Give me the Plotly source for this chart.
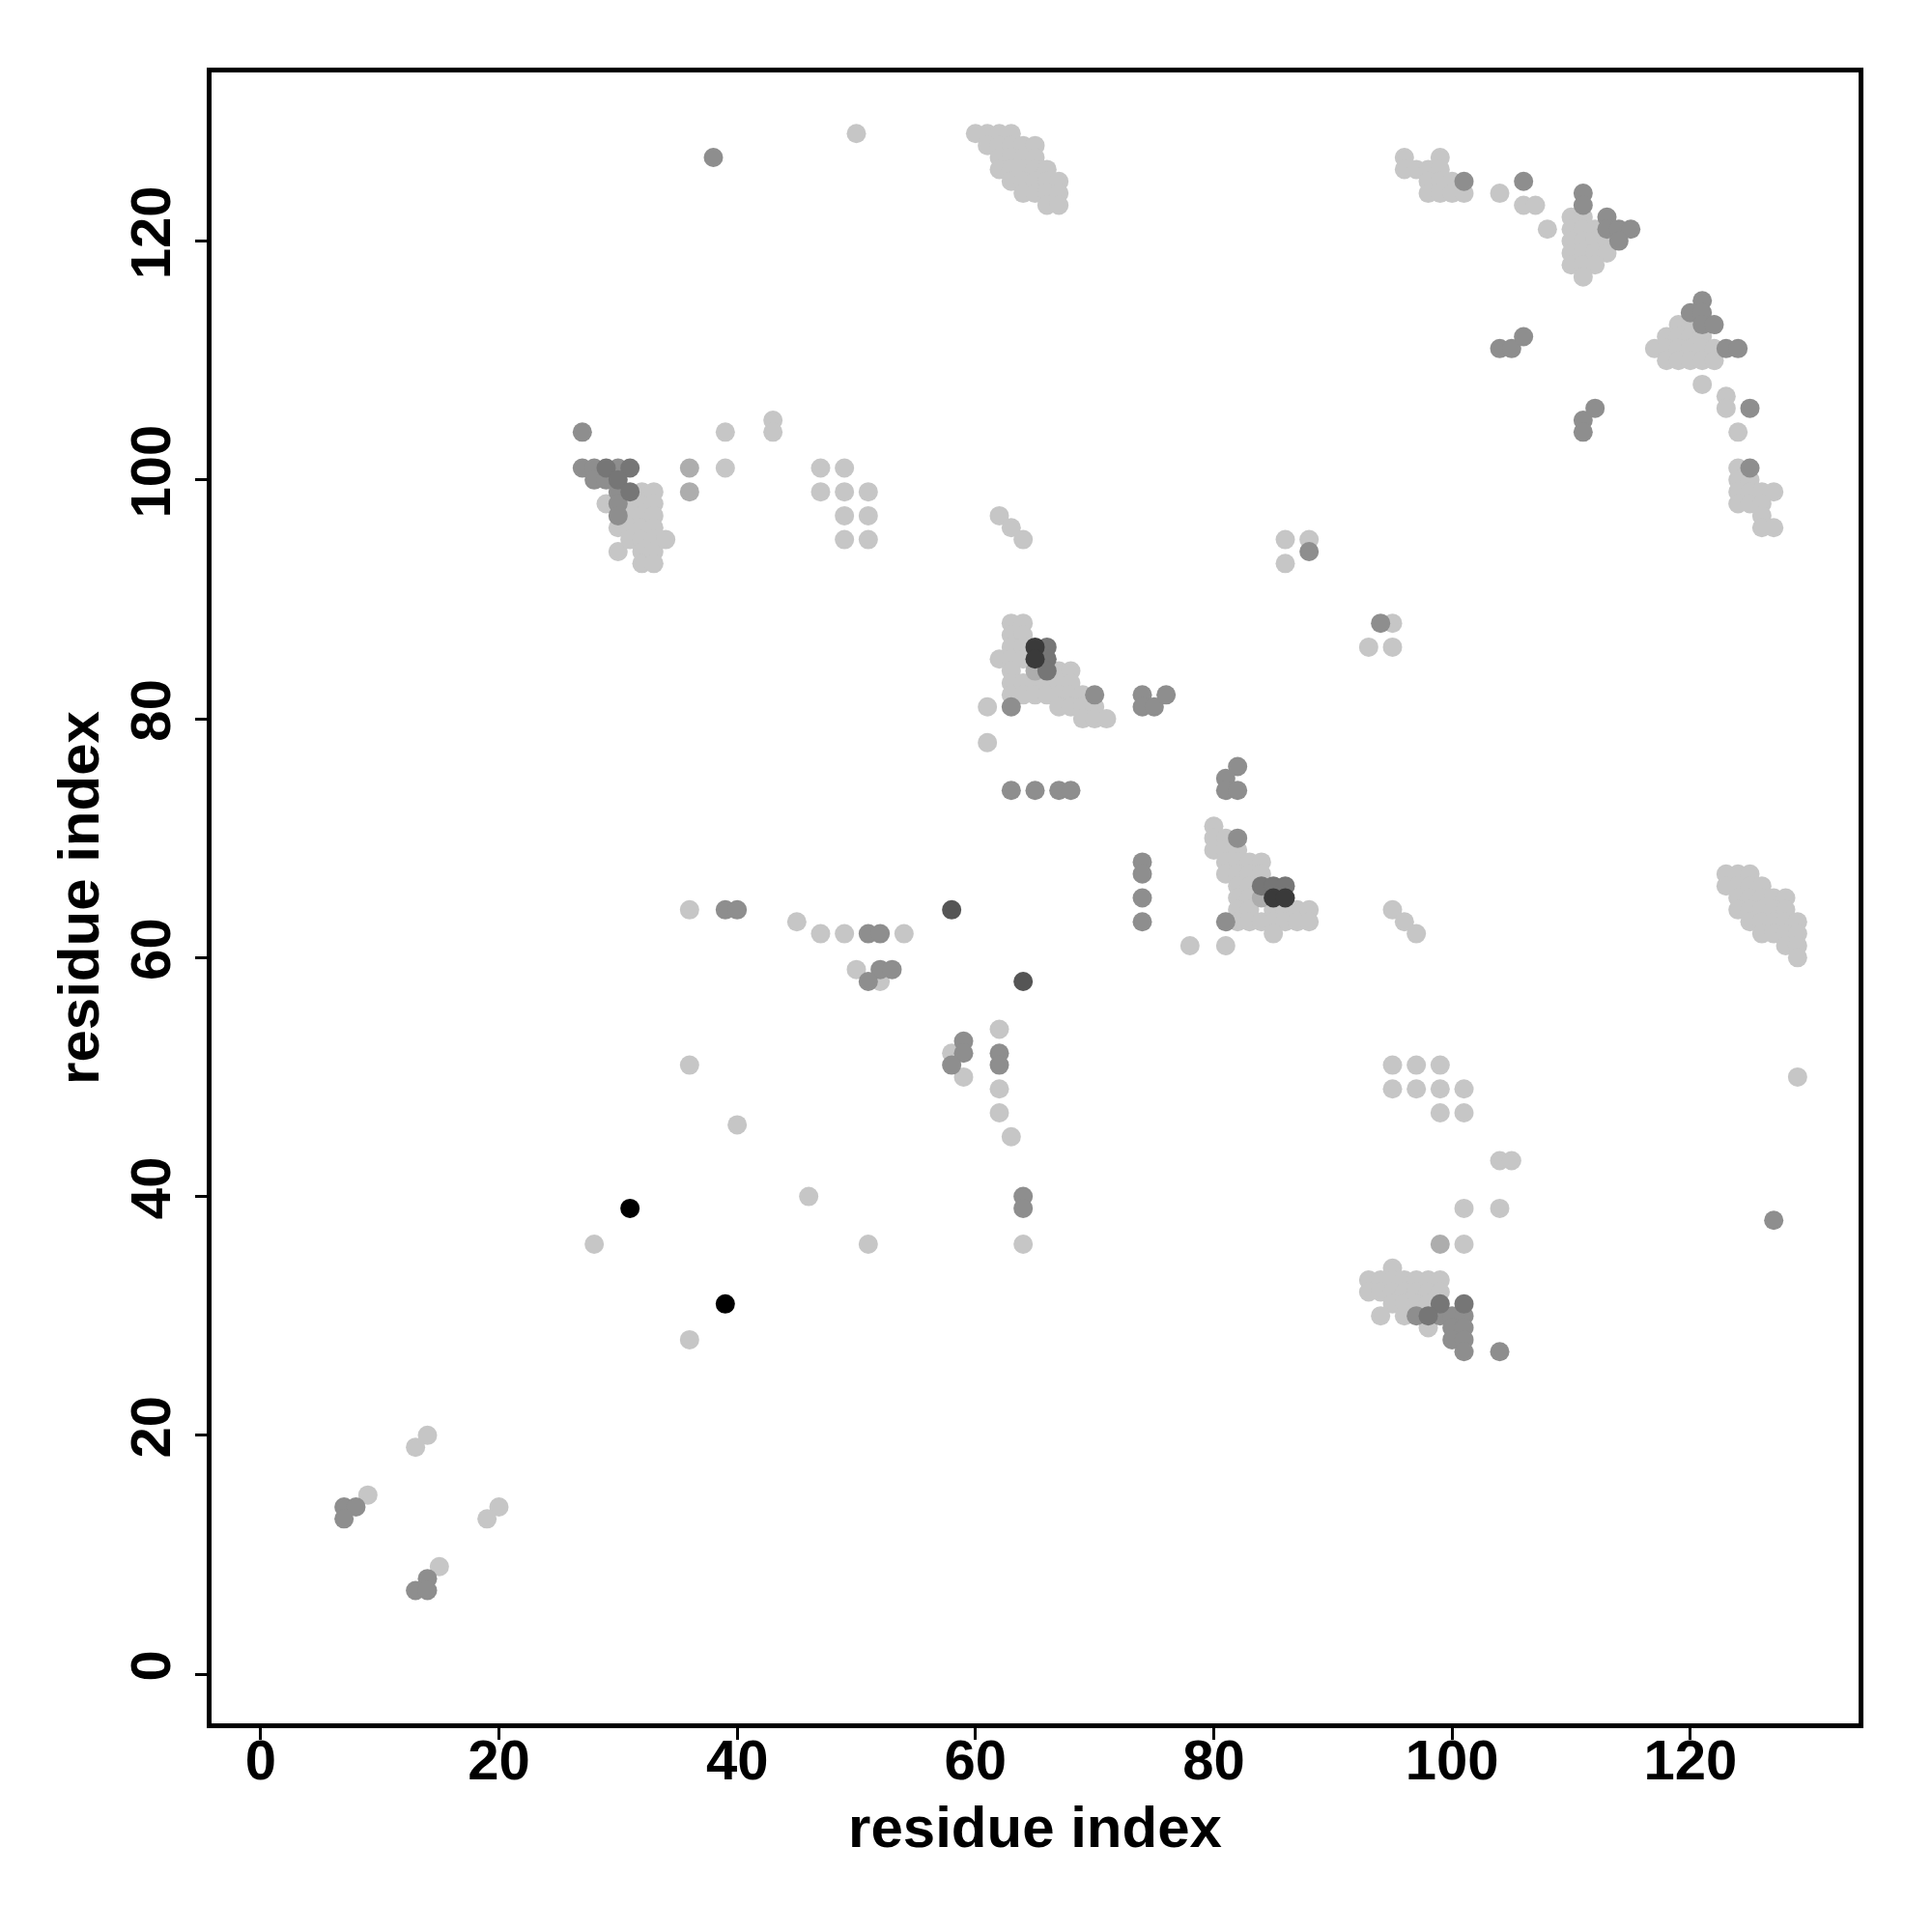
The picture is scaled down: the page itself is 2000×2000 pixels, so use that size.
import plotly.graph_objects as go

# ---- contact map data: (residue i, residue j) grouped by gray level ----
light = [
    (14, 20), (13, 19), (9, 15), (20, 14), (19, 13), (15, 9),
    (29, 98), (30, 96), (30, 94), (31, 98), (31, 97), (31, 96), (31, 95),
    (32, 99), (32, 98), (32, 97), (32, 96), (32, 95), (32, 94), (32, 93),
    (33, 99), (33, 98), (33, 97), (33, 96), (33, 95), (33, 94), (33, 93), (34, 95),
    (39, 104), (39, 101), (43, 105), (43, 104), (47, 101), (47, 99), (49, 101),
    (49, 99), (49, 97), (49, 95), (51, 99), (51, 97), (51, 95),
    (50, 129),
    (60, 129), (61, 129), (62, 129), (63, 129),
    (61, 128), (62, 128), (63, 128), (64, 128), (65, 128),
    (62, 127), (63, 127), (64, 127), (65, 127),
    (62, 126), (63, 126), (64, 126), (65, 126), (66, 126),
    (63, 125), (64, 125), (65, 125), (66, 125), (67, 125),
    (64, 124), (65, 124), (66, 124), (67, 124),
    (66, 123), (67, 123),
    (62, 97), (63, 96), (64, 95),
    (63, 88), (64, 88), (63, 87), (64, 87), (63, 86), (64, 86),
    (62, 85), (63, 85), (64, 85), (63, 84), (67, 84), (68, 84),
    (63, 83), (64, 83), (65, 83), (66, 83), (67, 83), (68, 83),
    (63, 82), (64, 82), (65, 82), (66, 82), (67, 82), (68, 82), (69, 82),
    (67, 81), (68, 81), (69, 81), (70, 81), (69, 80), (70, 80), (71, 80),
    (61, 81), (61, 78),
    (80, 71), (80, 70), (81, 70), (80, 69), (81, 69), (82, 69),
    (81, 68), (82, 68), (83, 68), (84, 68), (81, 67), (82, 67), (83, 67), (84, 67),
    (82, 66), (83, 66), (82, 65), (83, 65),
    (82, 64), (83, 64), (85, 64), (86, 64), (87, 64), (88, 64),
    (82, 63), (83, 63), (84, 63), (85, 63), (86, 63), (87, 63), (88, 63),
    (85, 62), (78, 61), (81, 61),
    (95, 51), (97, 51), (99, 51), (95, 49), (97, 49), (99, 49), (101, 49),
    (99, 47), (101, 47), (104, 43), (105, 43), (101, 39), (104, 39), (101, 36),
    (95, 34), (93, 33), (94, 33), (95, 33), (96, 33), (97, 33), (98, 33), (99, 33),
    (93, 32), (94, 32), (95, 32), (96, 32), (97, 32), (98, 32), (99, 32),
    (95, 31), (96, 31), (97, 31), (98, 31), (94, 30), (96, 30), (98, 29),
    (96, 127), (99, 127), (96, 126), (97, 126), (98, 126), (99, 126),
    (98, 125), (99, 125), (100, 125), (98, 124), (99, 124), (100, 124), (101, 124),
    (104, 124), (106, 123), (107, 123), (108, 121),
    (110, 122), (111, 122), (110, 121), (111, 121), (112, 121),
    (110, 120), (111, 120), (112, 120), (113, 120),
    (110, 119), (111, 119), (112, 119), (113, 119),
    (110, 118), (111, 118), (112, 118), (111, 117),
    (119, 113), (120, 113), (118, 112), (119, 112), (120, 112), (121, 112),
    (117, 111), (118, 111), (119, 111), (120, 111), (121, 111), (122, 111),
    (118, 110), (119, 110), (120, 110), (121, 110), (122, 110),
    (121, 108), (123, 107), (123, 106), (124, 104),
    (124, 101), (124, 100), (125, 100), (124, 99), (125, 99), (126, 99), (127, 99),
    (124, 98), (125, 98), (126, 98), (126, 97), (126, 96), (127, 96),
    (123, 67), (124, 67), (125, 67),
    (123, 66), (124, 66), (125, 66), (126, 66),
    (124, 65), (125, 65), (126, 65), (127, 65), (128, 65),
    (124, 64), (125, 64), (126, 64), (127, 64), (128, 64),
    (125, 63), (126, 63), (127, 63), (128, 63), (129, 63),
    (126, 62), (127, 62), (128, 62), (129, 62),
    (128, 61), (129, 61), (129, 60),
    (129, 50), (86, 95), (88, 95), (86, 93), (95, 88), (93, 86), (95, 86),
    (95, 64), (96, 63), (97, 62),
    (36, 64), (45, 63), (47, 62), (49, 62), (54, 62), (50, 59), (52, 58),
    (62, 54), (58, 52), (59, 50), (62, 49), (62, 47), (63, 45),
    (36, 51), (40, 46), (46, 40), (28, 36), (51, 36), (64, 36), (36, 28),
]

lightmid = [(36, 101), (36, 99), (65, 84), (84, 65), (99, 36)]

mid = [
    (7, 14), (8, 14), (7, 13), (14, 8), (13, 7), (14, 7),
    (27, 104), (27, 101), (28, 101), (30, 101), (28, 100), (29, 100),
    (30, 99), (30, 98), (30, 97),
    (38, 127),
    (70, 82), (63, 81), (74, 82), (74, 81), (75, 81), (76, 82),
    (63, 74), (65, 74), (67, 74), (68, 74),
    (82, 76), (81, 75), (81, 74), (82, 74), (82, 70),
    (74, 68), (74, 67), (74, 65), (74, 63), (81, 63),
    (97, 30), (99, 30), (100, 30), (101, 30), (100, 29), (101, 29),
    (100, 28), (101, 28), (101, 27), (104, 27),
    (101, 125), (106, 125), (111, 124), (111, 123), (113, 122), (113, 121),
    (114, 121), (115, 121), (114, 120),
    (104, 111), (105, 111), (106, 112), (111, 105), (111, 104), (112, 106),
    (121, 115), (120, 114), (121, 114), (121, 113), (122, 113),
    (123, 111), (124, 111), (125, 106), (125, 101),
    (127, 38), (88, 94), (94, 88),
    (39, 64), (40, 64), (51, 62), (52, 62), (52, 59), (53, 59), (51, 58),
    (59, 53), (59, 52), (58, 51), (62, 52), (62, 51), (64, 40), (64, 39),
]

darkmid = [
    (29, 101), (31, 101), (30, 100), (31, 99),
    (66, 86), (66, 85), (66, 84),
    (84, 66), (85, 66), (86, 66),
    (99, 31), (101, 31), (98, 30),
]

dark = [(58, 64), (64, 58)]
darkest = [(65, 86), (65, 85), (85, 65), (86, 65)]
black = [(31, 39), (39, 31)]

levels = [
    (light, "#c6c6c6"),
    (lightmid, "#adadad"),
    (mid, "#8e8e8e"),
    (darkmid, "#767676"),
    (dark, "#555555"),
    (darkest, "#3a3a3a"),
    (black, "#000000"),
]

tick_vals = [0, 20, 40, 60, 80, 100, 120]

fig = go.Figure()
for pts, col in levels:
    fig.add_trace(go.Scatter(
        x=[p[0] for p in pts], y=[p[1] for p in pts],
        mode="markers",
        marker=dict(size=20, color=col, line=dict(width=0)),
        showlegend=False, hoverinfo="skip",
    ))

font_family = "Liberation Sans, Arial, Helvetica, sans-serif"
axis_common = dict(
    range=[-4.12, 134.12],
    tickvals=tick_vals,
    ticks="outside", ticklen=12, tickwidth=3, tickcolor="black",
    showline=True, linewidth=4.5, linecolor="black", mirror=True,
    showgrid=False, zeroline=False,
    tickfont=dict(family=font_family, size=58, color="black", weight="bold"),
)
title_font = dict(family=font_family, size=60, color="black", weight="bold")

fig.update_layout(
    width=2000, height=2000,
    plot_bgcolor="white", paper_bgcolor="white",
    margin=dict(l=211, r=84, t=67, b=224),
    xaxis=dict(**axis_common, ticklabelstandoff=-28,
               title=dict(text="residue index", standoff=18, font=title_font)),
    yaxis=dict(**axis_common, tickangle=-90, ticklabelstandoff=3,
               title=dict(text="residue index", standoff=3, font=title_font)),
)

fig.write_html("out.html")
